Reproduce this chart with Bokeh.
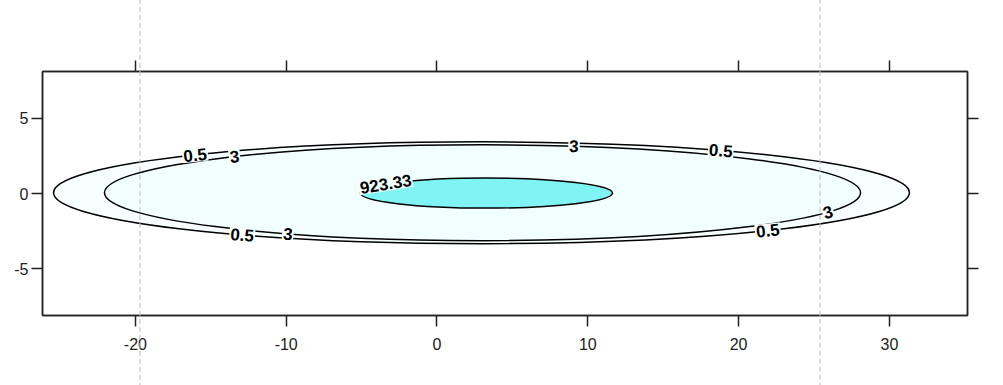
import numpy as np
from bokeh.plotting import figure
from bokeh.models import LinearAxis, FixedTicker, Range1d, ColumnDataSource
from bokeh.core.properties import value
from bokeh.embed import file_html
from bokeh.resources import INLINE

# ---- data ----
# contour levels, each outline approximated by an ellipse (centre, half-width, half-height)
levels = ["0.5", "3", "23.33"]
level_cx = [2.95, 3.02, 3.28]
level_cy = [0.05, 0.05, 0.03]
level_halfw = [28.38, 25.07, 8.36]
level_halfh = [3.38, 3.18, 1.0]
region_colors = ["#F8FFFF", "#F1FFFF", "#80F4F4"]

# contour labels: which contour, where along it (parametric angle, degrees), text
label_level = [0, 1, 0, 1, 1, 0, 0, 1, 2]
label_theta = [132, 131, 236, 239, 76, 56, 312, 336, 143]
label_text = ["0.5", "3", "0.5", "3", "3", "0.5", "0.5", "3", "923.33"]

# dashed reference lines
ref_lines_x = [-19.7, 25.4]

x_ticks = [-20, -10, 0, 10, 20, 30]
x_tick_labels = ["-20", "-10", "0", "10", "20", "30"]
y_ticks = [-5, 0, 5]
y_tick_labels = ["-5", "0", "5"]

# ---- figure ----
FW, FH = 925, 244
xr = Range1d(-26.16, 35.18)
yr = Range1d(-8.1, 8.1)
p = figure(frame_width=FW, frame_height=FH, x_range=xr, y_range=yr,
           min_border_left=42, min_border_top=71, min_border_bottom=70,
           min_border_right=30, output_backend="svg", toolbar_location=None,
           background_fill_color="white", border_fill_color="white")
p.grid.visible = False
p.outline_line_color = "#222222"
p.outline_line_width = 1.5

TICK_FONT = "Liberation Sans"

def style_axis(ax, ticks, labels, show_labels, standoff):
    ax.ticker = FixedTicker(ticks=ticks)
    ax.major_label_overrides = {t: l for t, l in zip(ticks, labels)}
    ax.minor_tick_line_color = None
    ax.major_tick_in = 0
    ax.major_tick_out = 11
    ax.major_tick_line_width = 1.5
    ax.major_tick_line_color = "#222222"
    ax.axis_line_color = "#222222"
    ax.axis_line_width = 1.5
    ax.major_label_standoff = standoff
    ax.major_label_text_font = TICK_FONT
    ax.major_label_text_font_size = "16px"
    ax.major_label_text_color = "#222222"
    if not show_labels:
        ax.major_label_text_font_size = "0px"
        ax.major_label_text_alpha = 0

style_axis(p.xaxis[0], x_ticks, x_tick_labels, True, 11)
style_axis(p.yaxis[0], y_ticks, y_tick_labels, True, 3)
p.yaxis[0].major_label_orientation = "horizontal"

top = LinearAxis()
style_axis(top, x_ticks, x_tick_labels, False, 0)
p.add_layout(top, "above")
right = LinearAxis()
style_axis(right, y_ticks, y_tick_labels, False, 0)
p.add_layout(right, "right")

# ---- filled contour regions (outermost first) ----
src = ColumnDataSource(dict(
    x=level_cx, y=level_cy,
    w=[2 * a for a in level_halfw], h=[2 * b for b in level_halfh],
    c=region_colors))
p.ellipse(x="x", y="y", width="w", height="h", source=src,
          fill_color="c", line_color="black", line_width=1.5)

# ---- dashed reference lines (extend beyond the panel) ----
p.segment(x0=ref_lines_x, y0=[-40] * len(ref_lines_x),
          x1=ref_lines_x, y1=[40] * len(ref_lines_x),
          line_color="#BBBBBB", line_width=1, line_dash="5 3", level="overlay")

# ---- contour labels positioned on the ellipses ----
sx = FW / (xr.end - xr.start)
sy = FH / (yr.end - yr.start)
lx, ly, la, lbg = [], [], [], []
for li, th in zip(label_level, label_theta):
    t = np.deg2rad(th)
    a, b = level_halfw[li], level_halfh[li]
    lx.append(level_cx[li] + a * np.cos(t))
    ly.append(level_cy[li] + b * np.sin(t))
    tx, ty = -a * np.sin(t) * sx, b * np.cos(t) * sy
    ang = np.arctan2(ty, tx)
    if ang > np.pi / 2:
        ang -= np.pi
    if ang < -np.pi / 2:
        ang += np.pi
    la.append(ang)
    lbg.append(region_colors[max(li - 1, 0)])
lsrc = ColumnDataSource(dict(x=lx, y=ly, a=la, t=label_text, bg=lbg))
p.text(x="x", y="y", text="t", angle="a", source=lsrc,
       text_font=value("Liberation Sans"), text_font_style="bold",
       text_font_size="17px", text_color="black",
       text_align="center", text_baseline="middle",
       background_fill_color="bg", padding=1)

open("out.html", "w").write(file_html(p, INLINE))
